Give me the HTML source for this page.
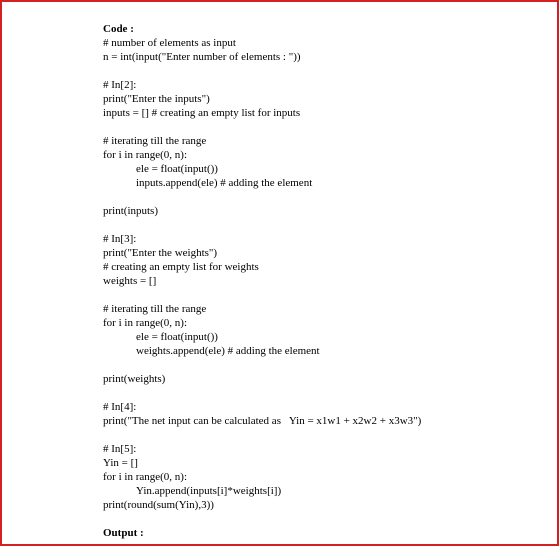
<!DOCTYPE html>
<html><head><style>
html,body{margin:0;padding:0;background:#fff;}
.frame{position:absolute;left:0;top:0;width:555px;height:542px;border:2px solid #d42020;}
pre{position:absolute;left:103px;top:22px;margin:0;font-family:"Liberation Serif",serif;font-size:11px;line-height:14px;color:#000;white-space:pre;}
b{font-weight:bold;}
i.t{display:inline-block;width:33px;font-style:normal;}
</style></head><body>
<div class="frame"></div>
<pre><b>Code :</b>
# number of elements as input
n = int(input("Enter number of elements : "))

# In[2]:
print("Enter the inputs")
inputs = [] # creating an empty list for inputs

# iterating till the range
for i in range(0, n):
<i class="t"></i>ele = float(input())
<i class="t"></i>inputs.append(ele) # adding the element

print(inputs)

# In[3]:
print("Enter the weights")
# creating an empty list for weights
weights = []

# iterating till the range
for i in range(0, n):
<i class="t"></i>ele = float(input())
<i class="t"></i>weights.append(ele) # adding the element

print(weights)

# In[4]:
print("The net input can be calculated as   Yin = x1w1 + x2w2 + x3w3")

# In[5]:
Yin = []
for i in range(0, n):
<i class="t"></i>Yin.append(inputs[i]*weights[i])
print(round(sum(Yin),3))

<b>Output :</b></pre>
</body></html>
